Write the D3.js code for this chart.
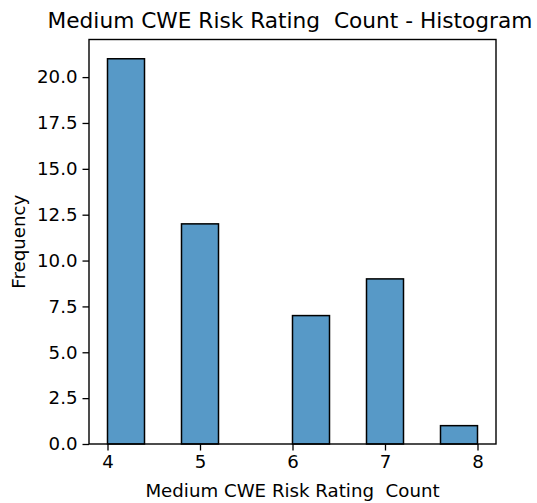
<!DOCTYPE html>
<html>
<head>
<meta charset="utf-8">
<script src="https://cdn.jsdelivr.net/npm/d3@7"></script>
<style>
  html, body { margin: 0; padding: 0; background: #fff; }
  svg { display: block; }
  text { font-family: "DejaVu Sans", sans-serif; fill: #000; white-space: pre; }
</style>
</head>
<body>
<script>
// Histogram bins: [start, end) edges and counts per bin
const binStarts = [4.0, 4.4, 4.8, 5.2, 5.6, 6.0, 6.4, 6.8, 7.2, 7.6];
const binEnds   = [4.4, 4.8, 5.2, 5.6, 6.0, 6.4, 6.8, 7.2, 7.6, 8.0];
const counts    = [21, 0, 12, 0, 0, 7, 0, 9, 0, 1];
const xTicks = [4, 5, 6, 7, 8];
const yTicks = [0, 2.5, 5, 7.5, 10, 12.5, 15, 17.5, 20];

const W = 537, H = 503;
const plot = { left: 89, right: 496, top: 39.5, bottom: 444 };

const svg = d3.select("body").append("svg")
  .attr("width", W).attr("height", H);

const x = d3.scaleLinear().domain([3.8, 8.2]).range([plot.left, plot.right]);
const y = d3.scaleLinear().domain([0, 22.05]).range([plot.bottom, plot.top]);

const bins = counts.map((c, i) => ({ x0: binStarts[i], x1: binEnds[i], n: c }))
  .filter(d => d.n > 0);

// bars
svg.append("g").selectAll("rect").data(bins).join("rect")
  .attr("x", d => x(d.x0))
  .attr("width", d => x(d.x1) - x(d.x0))
  .attr("y", d => y(d.n))
  .attr("height", d => y(0) - y(d.n))
  .attr("fill", "#5799c7")
  .attr("stroke", "#000")
  .attr("stroke-width", 1.5);

// frame
svg.append("rect")
  .attr("x", plot.left).attr("y", plot.top)
  .attr("width", plot.right - plot.left)
  .attr("height", plot.bottom - plot.top)
  .attr("fill", "none").attr("stroke", "#000").attr("stroke-width", 1.4);

// axes
const xAxis = d3.axisBottom(x).tickValues(xTicks).tickFormat(d3.format("d"))
  .tickSize(6.5).tickPadding(5);
const yAxis = d3.axisLeft(y).tickValues(yTicks).tickFormat(d3.format(".1f"))
  .tickSize(6.5).tickPadding(5);

const gx = svg.append("g").attr("transform", `translate(0,${plot.bottom})`).call(xAxis);
const gy = svg.append("g").attr("transform", `translate(${plot.left},0)`).call(yAxis);

[gx, gy].forEach(g => {
  g.select(".domain").remove();
  g.selectAll(".tick line").attr("stroke", "#000").attr("stroke-width", 1.3);
  g.selectAll(".tick text")
    .attr("font-family", "DejaVu Sans, sans-serif")
    .attr("font-size", 18.2).attr("fill", "#000");
});

// labels
svg.append("text")
  .attr("x", (plot.left + plot.right) / 2).attr("y", 497)
  .attr("text-anchor", "middle").attr("font-size", 18.2)
  .text("Medium CWE Risk Rating  Count");

svg.append("text")
  .attr("transform", `translate(25,${(plot.top + plot.bottom) / 2}) rotate(-90)`)
  .attr("text-anchor", "middle").attr("font-size", 18.2)
  .text("Frequency");

svg.append("text")
  .attr("x", 290).attr("y", 28)
  .attr("text-anchor", "middle").attr("font-size", 21.7)
  .text("Medium CWE Risk Rating  Count - Histogram");
</script>
</body>
</html>
